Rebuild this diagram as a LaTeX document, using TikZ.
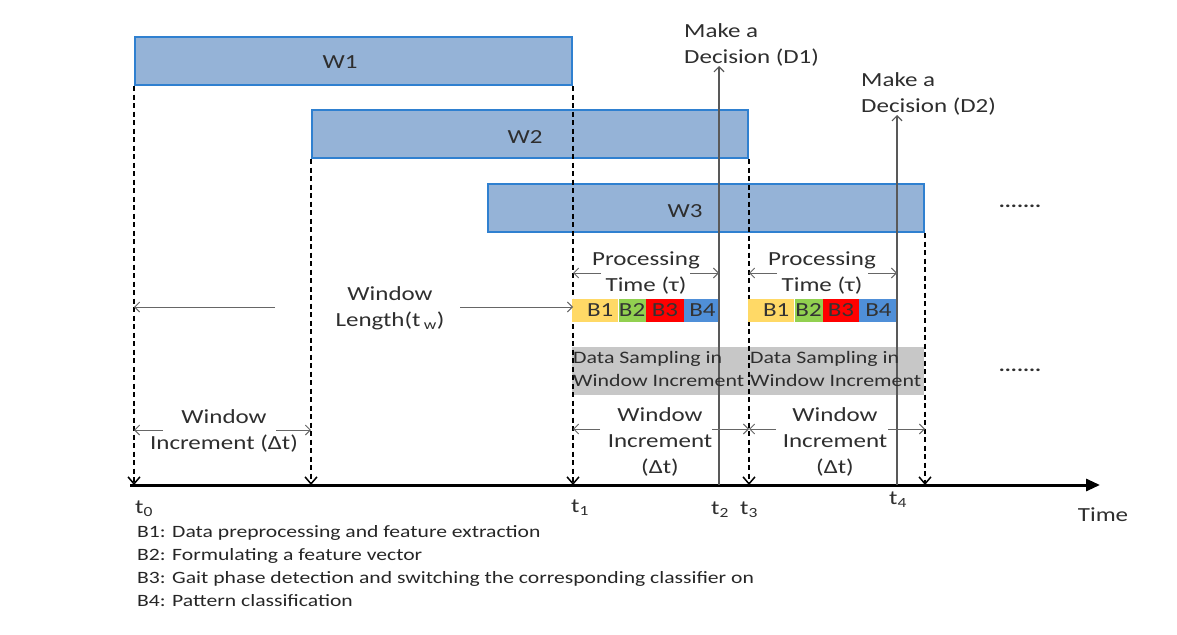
\documentclass[tikz,border=0pt]{standalone}
\usepackage{fontspec}
\setmainfont{Carlito}[FakeStretch=1.25]
\usetikzlibrary{arrows.meta}
\definecolor{winfill}{HTML}{95B3D7}
\definecolor{winborder}{HTML}{2F80D0}
\definecolor{txt}{HTML}{2E2E2E}
\definecolor{bone}{HTML}{FFD966}
\definecolor{btwo}{HTML}{92D050}
\definecolor{bthree}{HTML}{FF0000}
\definecolor{bfour}{HTML}{4F8FD8}
\definecolor{sampgray}{HTML}{BDBDBD}
\begin{document}
\begin{tikzpicture}[x=1pt,y=-1pt,
  font=\fontsize{20}{26}\selectfont, text=txt,
  win/.style={draw=winborder, line width=2pt, fill=winfill, minimum height=48, inner sep=0pt},
  lbl/.style={inner sep=0pt, align=center},
  dline/.style={line width=2.8pt, black, dash pattern=on 5pt off 3.5pt,
    -{Straight Barb[length=7pt,width=12pt,line width=1.5pt]}},
  garr/.style={line width=0.9pt, black!60, -{Straight Barb[length=5pt,width=10pt]}},
  darr/.style={line width=1.2pt, black!65, -{Straight Barb[length=5pt,width=10pt]}},
  bblk/.style={minimum height=23, inner sep=0pt, anchor=west, text=black!80},
]
\useasboundingbox (0,0) rectangle (1177,634);

% windows
\node[win, minimum width=437] (w1) at (353.5,61) {};
\node[win, minimum width=436] (w2) at (530,134) {};
\node[win, minimum width=436] (w3) at (706,208) {};
\node[lbl] (w1t) at (340,62) {W1};
\node[lbl] (w2t) at (525,137) {W2};
\node[lbl] (w3t) at (685,211) {W3};

% time axis
\coordinate (ax0) at (130,485);
\coordinate (ax1) at (1100,485);

% gray sampling box
\node[fill=sampgray, fill opacity=0.85, minimum width=352, minimum height=48, inner sep=0pt] (samp) at (748,371) {};

% dashed window boundaries
\draw[dline] (w1.south west) -- (w1.south west |- ax0);
\draw[dline] (w2.south west) -- (w2.south west |- ax0);
\draw[dline] (w1.south east) -- (w1.south east |- ax0);
\draw[dline] (w2.south east) -- (w2.south east |- ax0);
\draw[dline] (w3.south east) -- (w3.south east |- ax0);

\draw[line width=3pt, -{Triangle[length=14pt,width=12pt]}] (ax0) -- (ax1);
\node[lbl] (time) at (1103,515) {Time};

% processing blocks
\node[bblk, fill=bone, minimum width=46] (b1a) at (572,310) {\hspace*{10pt}B1};
\node[bblk, fill=btwo, minimum width=27] (b2a) at (b1a.east) {B2};
\node[bblk, fill=bthree, minimum width=38] (b3a) at (b2a.east) {B3};
\node[bblk, fill=bfour, minimum width=36] (b4a) at (b3a.east) {B4};
\node[bblk, fill=bone, minimum width=46] (b1b) at (748,310) {\hspace*{10pt}B1};
\node[bblk, fill=btwo, minimum width=28] (b2b) at (b1b.east) {B2};
\node[bblk, fill=bthree, minimum width=36] (b3b) at (b2b.east) {B3};
\node[bblk, fill=bfour, minimum width=38] (b4b) at (b3b.east) {B4};

% decision arrows
\node[lbl, align=left, anchor=south west] (d1) at (684,66) {Make a\\Decision (D1)};
\node[lbl, align=left, anchor=south west] (d2) at (861,115) {Make a\\Decision (D2)};
\coordinate (t2) at (719,485);
\coordinate (t4) at (897,485);
\draw[darr] (t2) -- (t2 |- d1.south);
\draw[darr] (t4) -- (t4 |- d2.south);

% sampling texts
\node[lbl, align=left, anchor=north west, font=\fontsize{17.5}{23}\selectfont] (s1) at (573,351) {Data Sampling in\\Window Increment};
\node[lbl, align=left, anchor=north west, font=\fontsize{17.5}{23}\selectfont] (s2) at (750,351) {Data Sampling in\\Window Increment};

% processing time
\node[lbl] (p1) at (646,273) {Processing\\Time (τ)};
\node[lbl] (p2) at (822,273) {Processing\\Time (τ)};
\coordinate (p1l) at (601,273); \coordinate (p1r) at (690,273);
\coordinate (p2l) at (777,273); \coordinate (p2r) at (868,273);
\draw[garr] (p1l) -- (p1l -| w1.east);
\draw[garr] (p1r) -- (p1r -| t2);
\draw[garr] (p2l) -- (p2l -| w2.east);
\draw[garr] (p2r) -- (p2r -| t4);

% window length
\node[lbl] (wl) at (390,308) {Window\\Length(t\,\textsubscript{w})};
\coordinate (wll) at (275,307); \coordinate (wlr) at (460,307);
\draw[garr] (wll) -- (wll -| w1.west);
\draw[garr] (wlr) -- (wlr -| w1.east);

% window increments
\node[lbl] (wi0) at (224,431) {Window\\Increment (Δt)};
\coordinate (wi0l) at (163,430); \coordinate (wi0r) at (276,430);
\draw[garr] (wi0l) -- (wi0l -| w1.west);
\draw[garr] (wi0r) -- (wi0r -| w2.west);
\node[lbl] (wi1) at (660,442) {Window\\Increment\\(Δt)};
\node[lbl] (wi2) at (835,442) {Window\\Increment\\(Δt)};
\coordinate (wi1l) at (600,429); \coordinate (wi1r) at (712,429);
\coordinate (wi2l) at (776,429); \coordinate (wi2r) at (888,429);
\draw[garr] (wi1l) -- (wi1l -| w1.east);
\draw[garr] (wi1r) -- (wi1r -| w2.east);
\draw[garr] (wi2l) -- (wi2l -| w2.east);
\draw[garr] (wi2r) -- (wi2r -| w3.east);

% time labels
\node[lbl] (l0) at (144,509) {t\textsubscript{0}};
\node[lbl] (l1) at (580,508) {t\textsubscript{1}};
\node[lbl] (l2) at (720,510) {t\textsubscript{2}};
\node[lbl] (l3) at (749,510) {t\textsubscript{3}};
\node[lbl] (l4) at (898,500) {t\textsubscript{4}};

% continuation dots
\node[lbl, font=\bfseries\fontsize{18}{18}\selectfont] (dots1) at (1020,206) {.......};
\node[lbl, font=\bfseries\fontsize{18}{18}\selectfont] (dots2) at (1020,370) {.......};

% legend
\node[lbl, align=left, anchor=north west, font=\fontsize{17.3}{23}\selectfont, text=black!85] (leg) at (137,525)
  {B1: Data preprocessing and feature extraction\\
   B2: Formulating a feature vector\\
   B3: Gait phase detection and switching the corresponding classifier on\\
   B4: Pattern classification};
\end{tikzpicture}
\end{document}
